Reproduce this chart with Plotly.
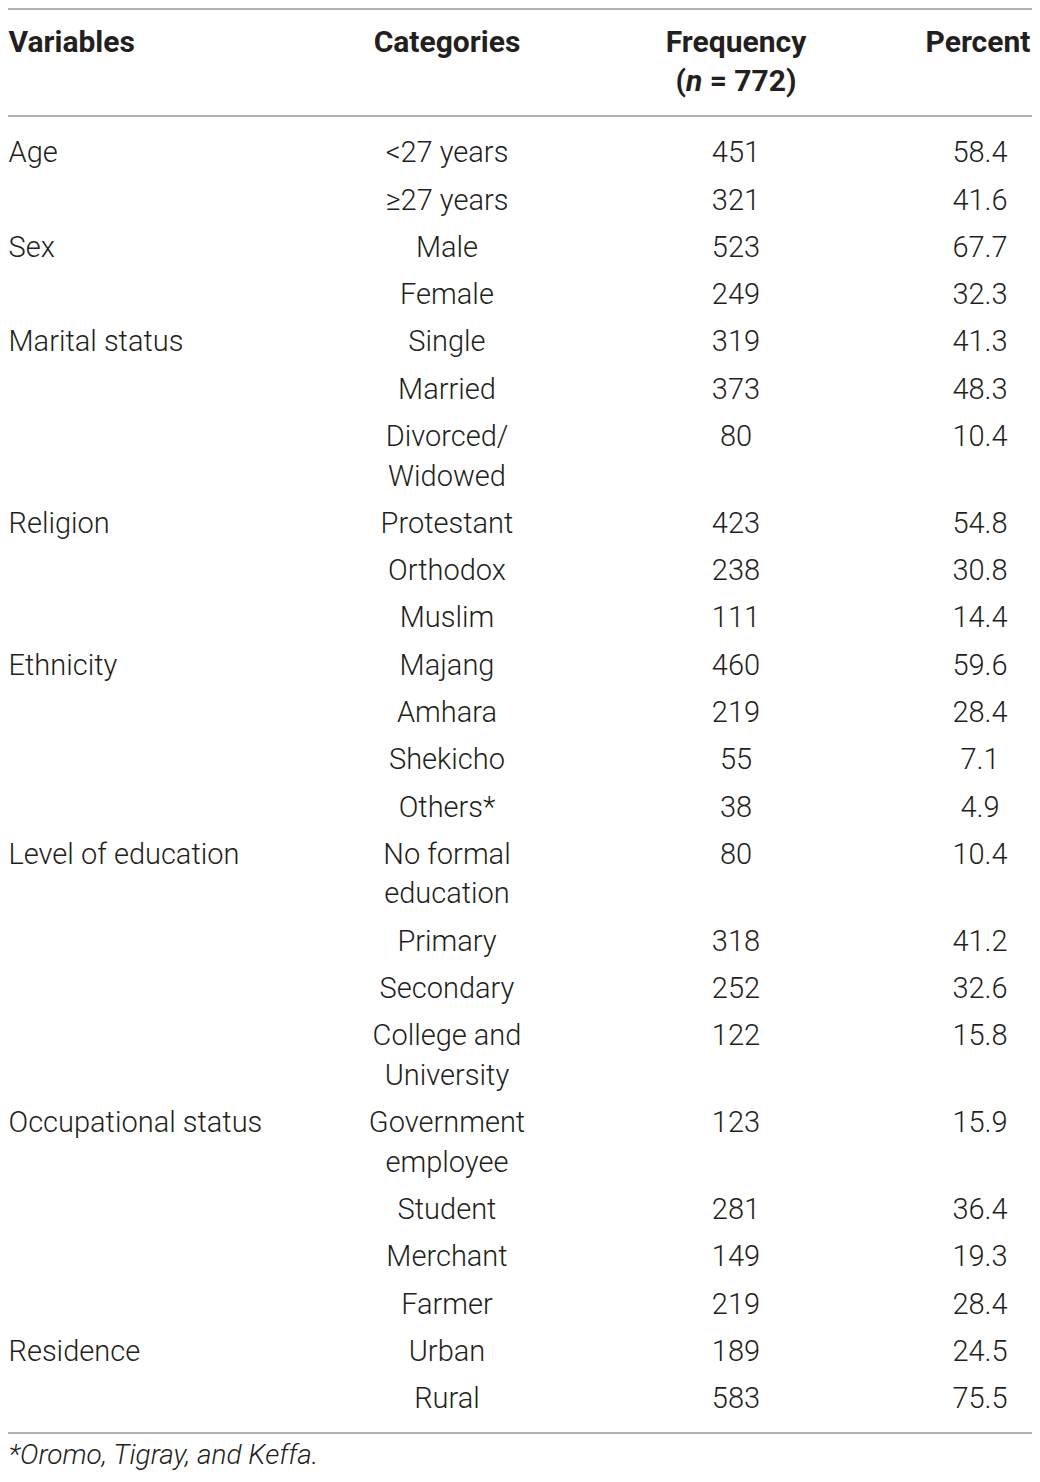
import plotly.graph_objects as go

# ---- data ----
variables = ["Age", "Sex", "Marital status", "Religion", "Ethnicity",
             "Level of education", "Occupational status", "Residence"]
categories = [
    ["&lt;27 years", "≥27 years"],
    ["Male", "Female"],
    ["Single", "Married", "Divorced/|Widowed"],
    ["Protestant", "Orthodox", "Muslim"],
    ["Majang", "Amhara", "Shekicho", "Others*"],
    ["No formal|education", "Primary", "Secondary", "College and|University"],
    ["Government|employee", "Student", "Merchant", "Farmer"],
    ["Urban", "Rural"],
]
frequency = [
    [451, 321], [523, 249], [319, 373, 80], [423, 238, 111],
    [460, 219, 55, 38], [80, 318, 252, 122], [123, 281, 149, 219], [189, 583],
]
percent = [
    [58.4, 41.6], [67.7, 32.3], [41.3, 48.3, 10.4], [54.8, 30.8, 14.4],
    [59.6, 28.4, 7.1, 4.9], [10.4, 41.2, 32.6, 15.8], [15.9, 36.4, 19.3, 28.4],
    [24.5, 75.5],
]
headers = ["Variables", "Categories", "Frequency|(<i>n</i> = 772)", "Percent"]
footnote = "*Oromo, Tigray, and Keffa."

# ---- layout constants (page pixel units; page body has an 8px margin) ----
W, H = 1040, 1482
OFF = 8
FONT = "Roboto"
TXT = "#231f20"
SIZE = 29
HSIZE = 30
X_VAR, X_CAT, X_FREQ, X_PCT = 8.5, 447, 736, 980
ROW0, STEP, LSTEP = 155, 47.3, 39.5
HEAD0, FOOT_Y = 44, 1457

var_x, var_y, var_t = [], [], []
cat_x, cat_y, cat_t = [], [], []
num_x, num_y, num_t = [], [], []

y = ROW0
for gi, v in enumerate(variables):
    var_x.append(X_VAR); var_y.append(y); var_t.append(v)
    for ci, c in enumerate(categories[gi]):
        lines = c.split("|")
        for k, ln in enumerate(lines):
            cat_x.append(X_CAT); cat_y.append(y + k * LSTEP); cat_t.append(ln)
        num_x += [X_FREQ, X_PCT]
        num_y += [y, y]
        num_t += [str(frequency[gi][ci]), f"{percent[gi][ci]:.1f}"]
        y += STEP + LSTEP * (len(lines) - 1)

# header
hx, hy, ht = [], [], []
for xh, h in zip([X_VAR, X_CAT, X_FREQ, X_PCT - 2], headers):
    for k, ln in enumerate(h.split("|")):
        hx.append(xh); hy.append(HEAD0 + k * LSTEP); ht.append(f"<b>{ln}</b>")

fig = go.Figure()
tf = dict(family=FONT, size=SIZE, color=TXT, weight=300)
hf = dict(family=FONT, size=HSIZE, color=TXT, weight=700)
common = dict(mode="text", hoverinfo="skip")
fig.add_trace(go.Scatter(x=var_x, y=var_y, text=var_t, textposition="middle right",
                         textfont=tf, **common))
fig.add_trace(go.Scatter(x=cat_x, y=cat_y, text=cat_t, textposition="middle center",
                         textfont=tf, **common))
fig.add_trace(go.Scatter(x=num_x, y=num_y, text=num_t, textposition="middle center",
                         textfont=tf, **common))
fig.add_trace(go.Scatter(x=[hx[0]], y=[hy[0]], text=[ht[0]], textposition="middle right",
                         textfont=hf, **common))
fig.add_trace(go.Scatter(x=hx[1:], y=hy[1:], text=ht[1:], textposition="middle center",
                         textfont=hf, **common))
fig.add_trace(go.Scatter(x=[X_VAR], y=[FOOT_Y], text=[f"<i>{footnote}</i>"],
                         textposition="middle right",
                         textfont=dict(family=FONT, size=28, color=TXT, weight=300),
                         **common))

rule = dict(color="#9a9a9a", width=1.5)
for yl in [9, 116, 1433]:
    fig.add_shape(type="line", xref="x", yref="y", x0=OFF, x1=W - OFF, y0=yl, y1=yl, line=rule)

fig.update_layout(
    width=W - 2 * OFF, height=H - 2 * OFF, margin=dict(l=0, r=0, t=0, b=0),
    paper_bgcolor="white", plot_bgcolor="white", showlegend=False,
    xaxis=dict(range=[OFF, W - OFF], visible=False, fixedrange=True),
    yaxis=dict(range=[H - OFF, OFF], visible=False, fixedrange=True),
)
fig.write_html("out.html")
